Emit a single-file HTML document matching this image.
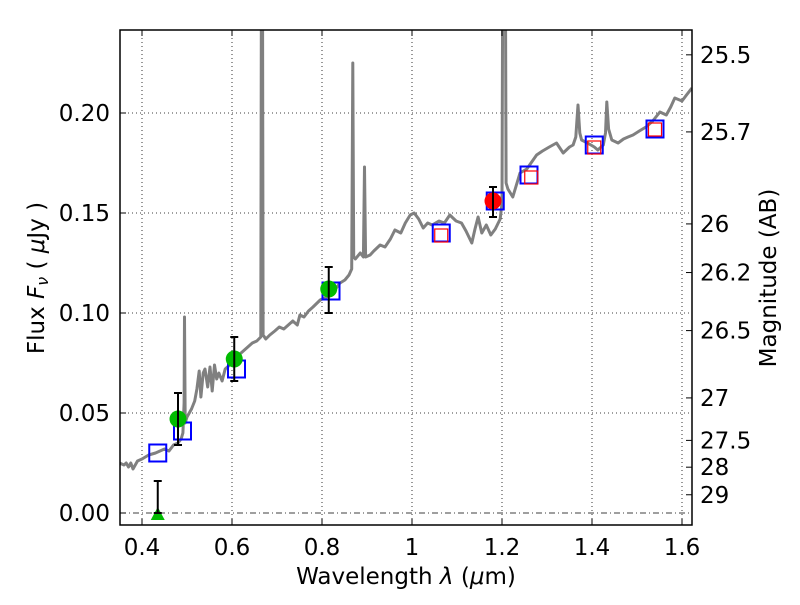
<!DOCTYPE html>
<html><head><meta charset="utf-8"><style>
body{margin:0;background:#fff;}
svg text{font-family:"DejaVu Sans","Liberation Sans",sans-serif;fill:#000;}
</style></head><body>
<svg id="chart" width="800" height="600" viewBox="0 0 800 600" xmlns="http://www.w3.org/2000/svg">
<rect width="800" height="600" fill="#fff"/>
<g id="grid"></g>
<g id="spec"></g>
<g id="marks"></g>
<rect x="120" y="30" width="572" height="495" fill="none" stroke="#000" stroke-width="1.5"/>
<g id="axes"></g>
<text x="406" y="584" font-size="23" text-anchor="middle">Wavelength  <tspan font-style="italic">λ</tspan> (<tspan font-style="italic">μ</tspan>m)</text>
<text transform="translate(44,278) rotate(-90)" font-size="23" text-anchor="middle">Flux  <tspan font-style="italic">F</tspan><tspan font-style="italic" font-size="16" dy="4">ν</tspan><tspan dy="-4">  ( </tspan><tspan font-style="italic">μ</tspan>Jy )</text>
<text transform="translate(776,278) rotate(-90)" font-size="23" text-anchor="middle">Magnitude (AB)</text>
</svg>
<script>
const xTicks=[0.4,0.6,0.8,1.0,1.2,1.4,1.6];
const xTickLabels=["0.4","0.6","0.8","1","1.2","1.4","1.6"];
const yTicks=[0,0.05,0.10,0.15,0.20];
const yTickLabels=["0.00","0.05","0.10","0.15","0.20"];
const magTicks=[25.5,25.7,26,26.2,26.5,27,27.5,28,29];
const magTickLabels=["25.5","25.7","26","26.2","26.5","27","27.5","28","29"];
const specWave=[0.35,0.36,0.365,0.37,0.375,0.38,0.39,0.40,0.415,0.43,0.45,0.46,0.47,0.48,0.487,0.491,0.4935,0.4945,0.496,0.50,0.51,0.517,0.522,0.527,0.531,0.536,0.54,0.546,0.551,0.556,0.561,0.566,0.571,0.578,0.585,0.595,0.605,0.615,0.625,0.635,0.645,0.655,0.664,0.6655,0.6675,0.669,0.675,0.684,0.695,0.705,0.715,0.725,0.735,0.745,0.751,0.76,0.77,0.78,0.796,0.81,0.82,0.83,0.84,0.851,0.86,0.866,0.8685,0.8705,0.874,0.885,0.892,0.8945,0.897,0.907,0.915,0.929,0.94,0.952,0.962,0.975,0.985,0.996,1.005,1.015,1.025,1.035,1.045,1.06,1.072,1.084,1.098,1.11,1.12,1.133,1.14,1.147,1.155,1.165,1.175,1.185,1.196,1.2,1.202,1.207,1.209,1.213,1.224,1.24,1.255,1.277,1.29,1.305,1.321,1.336,1.35,1.358,1.364,1.369,1.373,1.377,1.39,1.405,1.413,1.425,1.43,1.433,1.437,1.444,1.458,1.47,1.48,1.491,1.505,1.52,1.535,1.551,1.565,1.575,1.584,1.6,1.61,1.622];
const specFlux=[0.025,0.024,0.025,0.023,0.025,0.022,0.026,0.027,0.029,0.030,0.032,0.031,0.034,0.035,0.037,0.040,0.055,0.098,0.045,0.048,0.052,0.056,0.062,0.071,0.058,0.070,0.072,0.063,0.073,0.061,0.074,0.067,0.070,0.066,0.072,0.074,0.077,0.079,0.081,0.083,0.085,0.086,0.088,0.30,0.30,0.089,0.087,0.089,0.091,0.093,0.092,0.094,0.096,0.094,0.099,0.098,0.101,0.103,0.1065,0.108,0.111,0.112,0.115,0.1165,0.119,0.122,0.225,0.128,0.127,0.130,0.128,0.173,0.128,0.129,0.131,0.134,0.133,0.137,0.1415,0.140,0.145,0.149,0.150,0.147,0.1425,0.145,0.144,0.146,0.145,0.149,0.146,0.145,0.141,0.135,0.142,0.148,0.140,0.144,0.139,0.142,0.147,0.155,0.30,0.30,0.165,0.162,0.158,0.170,0.172,0.179,0.181,0.183,0.185,0.180,0.183,0.184,0.188,0.204,0.190,0.1865,0.185,0.183,0.1815,0.184,0.190,0.2055,0.192,0.1865,0.185,0.187,0.188,0.189,0.191,0.193,0.196,0.2005,0.199,0.203,0.2075,0.206,0.209,0.2125];
const obsWave=[0.48,0.605,0.815];
const obsFlux=[0.047,0.077,0.112];
const obsLo=[0.034,0.066,0.100];
const obsHi=[0.060,0.088,0.123];
const redWave=[1.18];
const redFlux=[0.156];
const redLo=[0.148];
const redHi=[0.163];
const limWave=[0.435];
const limFlux=[0.0];
const limHi=[0.016];
const modelWave=[0.435,0.49,0.61,0.82,1.065,1.185,1.26,1.405,1.54];
const modelFlux=[0.030,0.041,0.072,0.111,0.140,0.156,0.169,0.184,0.192];
const fitWave=[1.065,1.265,1.405,1.54];
const fitFlux=[0.139,0.168,0.183,0.192];

const X0=120,X1=692,Y0=30,Y1=525;
const xs=v=>142+(v-0.4)*450;
const ys=v=>513-2000*v;
const magToY=m=>ys(Math.pow(10,(23.9-m)/2.5));
const NS="http://www.w3.org/2000/svg";
function mk(tag,attrs,parent){const e=document.createElementNS(NS,tag);for(const k in attrs)e.setAttribute(k,attrs[k]);parent.appendChild(e);return e;}
const grid=document.getElementById('grid'),axes=document.getElementById('axes'),spec=document.getElementById('spec'),marks=document.getElementById('marks');

xTicks.forEach((t,i)=>{const x=xs(t);
 const g=mk('line',{x1:x,x2:x,y1:Y0,y2:Y1,stroke:'#000','stroke-width':0.8,'stroke-dasharray':'1,3'},grid);
 
 
 mk('line',{x1:x,x2:x,y1:Y1,y2:Y1-6,stroke:'#000'},axes);
 mk('line',{x1:x,x2:x,y1:Y0,y2:Y0+6,stroke:'#000'},axes);
 const l=mk('text',{x:x,y:Y1+30,'font-size':23,'text-anchor':'middle'},axes);l.textContent=xTickLabels[i];
 
 
});
yTicks.forEach((t,i)=>{const y=ys(t);
 const g=mk('line',{x1:X0,x2:X1,y1:y,y2:y,stroke:'#000','stroke-width':0.8,'stroke-dasharray':t===0?'6,3,1,3':'1,3'},grid);
 
 
 mk('line',{x1:X0,x2:X0+6,y1:y,y2:y,stroke:'#000'},axes);
 const l=mk('text',{x:X0-10,y:y+8,'font-size':23,'text-anchor':'end'},axes);l.textContent=yTickLabels[i];
 
 
});
magTicks.forEach((m,i)=>{const y=magToY(m);
 mk('line',{x1:X1,x2:X1-6,y1:y,y2:y,stroke:'#000'},axes);
 const l=mk('text',{x:X1+8,y:y+8,'font-size':23},axes);l.textContent=magTickLabels[i];
 
 
});

const cp=mk('clipPath',{id:'clip'},document.getElementById('chart'));
mk('rect',{x:X0,y:Y0,width:X1-X0,height:Y1-Y0},cp);
const pts=specWave.map((w,i)=>xs(w).toFixed(1)+','+ys(specFlux[i]).toFixed(1)).join(' ');
const pl=mk('polyline',{points:pts,fill:'none',stroke:'#808080','stroke-width':3,'stroke-linejoin':'round','clip-path':'url(#clip)'},spec);



modelWave.forEach((w,i)=>{const x=xs(w),y=ys(modelFlux[i]);
 const r=mk('rect',{x:x-8.5,y:y-8.5,width:17,height:17,fill:'none',stroke:'#0000ff','stroke-width':2},marks);
 
 
});
fitWave.forEach((w,i)=>{const x=xs(w),y=ys(fitFlux[i]);
 const r=mk('rect',{x:x-6.5,y:y-6,width:13,height:13,fill:'none',stroke:'#ff0000','stroke-width':1.2},marks);
 
 
});
function errbar(x,lo,hi){
 mk('line',{x1:x,x2:x,y1:ys(lo),y2:ys(hi),stroke:'#000','stroke-width':2},marks);
 mk('line',{x1:x-4,x2:x+4,y1:ys(lo),y2:ys(lo),stroke:'#000','stroke-width':2},marks);
 mk('line',{x1:x-4,x2:x+4,y1:ys(hi),y2:ys(hi),stroke:'#000','stroke-width':2},marks);
}
obsWave.forEach((w,i)=>{const x=xs(w);
 const c=mk('circle',{cx:x,cy:ys(obsFlux[i]),r:8.5,fill:'#00bb00'},marks);
 
 
 errbar(x,obsLo[i],obsHi[i]);
});
redWave.forEach((w,i)=>{const x=xs(w);
 const c=mk('circle',{cx:x,cy:ys(redFlux[i]),r:8.5,fill:'#ff0000'},marks);
 
 
 errbar(x,redLo[i],redHi[i]);
});
limWave.forEach((w,i)=>{const x=xs(w),y=ys(limFlux[i]);
 const t=mk('polygon',{points:`${x-7},${y+7} ${x+7},${y+7} ${x},${y-6}`,fill:'#00bb00'},marks);
 
 
 errbar(x,limFlux[i],limHi[i]);
});
</script>
</body></html>
